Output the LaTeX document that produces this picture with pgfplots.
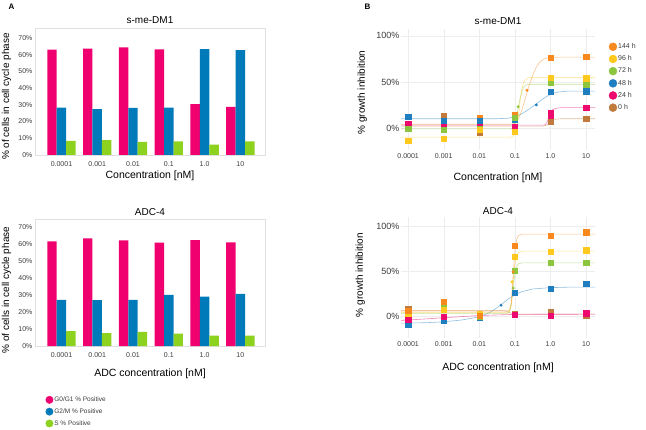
\documentclass[border=0pt]{standalone}
\usepackage{pgfplots}
\pgfplotsset{compat=1.18}
\usepackage{fontspec}
\setmainfont{Liberation Sans}
\definecolor{gpink}{RGB}{240,0,110}
\definecolor{gblue}{RGB}{0,122,184}
\definecolor{ggreen}{RGB}{140,210,30}
\definecolor{corange}{RGB}{247,137,31}
\definecolor{cyellow}{RGB}{255,200,30}
\definecolor{cgreen}{RGB}{140,198,63}
\definecolor{cblue}{RGB}{31,126,192}
\definecolor{cpink}{RGB}{236,10,110}
\definecolor{cbrown}{RGB}{192,122,62}
\definecolor{txt}{RGB}{60,60,60}
\pgfplotsset{
  barax/.style={
    scale only axis, width=230pt, height=127pt, anchor=south west,
    xmin=-0.74, xmax=5.69, ymin=0,
    ybar, bar width=0.265,
    axis line style={black!12}, tick style={draw=none},
    xtick={0,...,5}, xticklabels={0.0001,0.001,0.01,0.1,1.0,10},
    ytick={0,10,...,70}, yticklabels={0\%,10\%,20\%,30\%,40\%,50\%,60\%,70\%},
    ticklabel style={font=\fontsize{7}{8}\selectfont, text=txt},
    /pgf/number format/assume math mode=true,
    xticklabel style={yshift=1pt},
    yticklabel style={xshift=1pt},
    title style={font=\fontsize{10}{12}\selectfont, text=black},
    label style={text=black},
    ylabel={\% of cells in cell cycle phase},
    ylabel style={font=\fontsize{10}{11}\selectfont, at={(axis description cs:-0.124,0.46)}, anchor=center},
  },
  curveax/.style={
    scale only axis, width=194pt, height=121pt, anchor=south west,
    xmin=-4.2, xmax=1.25,
    axis line style={draw=none}, tick style={draw=none},
    grid=major, grid style={black!7, line width=0.4pt},
    xtick={-4,...,1}, xticklabels={0.0001,0.001,0.01,0.1,1.0,10},
    ytick={0,50,100}, yticklabels={0\%,50\%,100\%},
    xticklabel style={font=\fontsize{7}{8}\selectfont, text=txt},
    yticklabel style={font=\fontsize{9}{10}\selectfont, text=txt, xshift=2pt},
    /pgf/number format/assume math mode=true,
    title style={font=\fontsize{10}{12}\selectfont},
    ylabel={\% growth inhibition},
    ylabel style={font=\fontsize{10}{11}\selectfont, anchor=center},
  },
  cv/.style={#1, line width=0.6pt, opacity=0.5, forget plot},
  mk/.style={#1, only marks, mark=square*, mark size=2.6pt, forget plot},
  dt/.style={#1, only marks, mark=*, mark size=1.3pt, forget plot},
}
\begin{document}
\begin{tikzpicture}
\path[use as bounding box] (0pt,0pt) rectangle (646pt,429pt);
\node[anchor=north west, font=\bfseries\fontsize{8}{9}\selectfont] at (5pt,429pt) {A};
\node[anchor=north west, font=\bfseries\fontsize{8}{9}\selectfont] at (361pt,429pt) {B};

% ---------- A top ----------
\begin{axis}[barax, at={(35pt,274pt)}, ymax=76,
  title={s-me-DM1}, title style={yshift=-5pt},
  xlabel={Concentration [nM]}, xlabel style={font=\fontsize{10.5}{12}\selectfont, yshift=3pt}]
\addplot[fill=gpink, draw=none, bar shift=-0.265] coordinates {(0,63.0) (1,63.6) (2,64.4) (3,63.2) (4,30.4) (5,28.8)};
\addplot[fill=gblue, draw=none, bar shift=0] coordinates {(0,28.4) (1,27.4) (2,28.2) (3,28.4) (4,63.4) (5,62.8)};
\addplot[fill=ggreen, draw=none, bar shift=0.265] coordinates {(0,8.5) (1,8.9) (2,7.8) (3,8.2) (4,6.2) (5,8.2)};
\end{axis}

% ---------- A bottom ----------
\begin{axis}[barax, at={(35pt,83pt)}, ymax=75,
  title={ADC-4}, title style={yshift=-6pt},
  ylabel style={at={(axis description cs:-0.124,0.44)}},
  xlabel={ADC concentration [nM]}, xlabel style={font=\fontsize{10.5}{12}\selectfont, yshift=-4pt},
  legend style={at={(axis description cs:0.045,-0.39)}, anchor=north west, draw=none, fill=none,
    font=\fontsize{6.5}{7}\selectfont, text=txt, row sep=3.6pt, inner sep=0pt,
    nodes={inner sep=1pt}},
  legend cell align=left]
\addlegendimage{legend image code/.code={\fill[gpink] (3.7pt,0pt) circle (3.7pt);}}
\addlegendentry{G0/G1 \% Positive}
\addlegendimage{legend image code/.code={\fill[gblue] (3.7pt,0pt) circle (3.7pt);}}
\addlegendentry{G2/M \% Positive}
\addlegendimage{legend image code/.code={\fill[ggreen] (3.7pt,0pt) circle (3.7pt);}}
\addlegendentry{S \% Positive}
\addplot[fill=gpink, draw=none, bar shift=-0.265, forget plot] coordinates {(0,61.8) (1,63.5) (2,62.4) (3,61.0) (4,62.5) (5,61.2)};
\addplot[fill=gblue, draw=none, bar shift=0, forget plot] coordinates {(0,27.3) (1,27.1) (2,27.3) (3,30.2) (4,29.2) (5,30.8)};
\addplot[fill=ggreen, draw=none, bar shift=0.265, forget plot] coordinates {(0,8.8) (1,7.6) (2,8.4) (3,7.3) (4,6.1) (5,6.1)};
\end{axis}

% ---------- B top ----------
\begin{axis}[curveax, at={(401pt,279pt)}, ymin=-24, ymax=107.5,
  title={s-me-DM1}, title style={yshift=-5pt},
  ylabel style={at={(axis description cs:-0.2,0.475)}},
  xlabel={Concentration [nM]}, xlabel style={font=\fontsize{10.5}{12}\selectfont, yshift=-8pt},
  legend style={at={(axis description cs:1.07,0.89)}, anchor=north west, draw=none, fill=none,
    font=\fontsize{7}{8}\selectfont, text=txt, row sep=3.6pt, inner sep=0pt,
    nodes={inner sep=1pt}},
  legend cell align=left]
\addlegendimage{legend image code/.code={\fill[corange] (4pt,0pt) circle (4pt);}}
\addlegendentry{144 h}
\addlegendimage{legend image code/.code={\fill[cyellow] (4pt,0pt) circle (4pt);}}
\addlegendentry{96 h}
\addlegendimage{legend image code/.code={\fill[cgreen] (4pt,0pt) circle (4pt);}}
\addlegendentry{72 h}
\addlegendimage{legend image code/.code={\fill[cblue] (4pt,0pt) circle (4pt);}}
\addlegendentry{48 h}
\addlegendimage{legend image code/.code={\fill[cpink] (4pt,0pt) circle (4pt);}}
\addlegendentry{24 h}
\addlegendimage{legend image code/.code={\fill[cbrown] (4pt,0pt) circle (4pt);}}
\addlegendentry{0 h}
% curves
\addplot[cv=cbrown] coordinates {(-4.2,2) (-0.2,2) (-0.1,3) (-0.05,5) (0,7.5) (0.1,9.3) (0.3,10) (1.25,10)};
\addplot[cv=cpink] coordinates {(-4.2,3) (-0.2,3) (-0.15,3.5) (-0.1,6) (-0.05,11) (0,16) (0.05,19.5) (0.15,21.3) (0.3,22) (1.25,22)};
\addplot[cv=cblue] coordinates {(-4.2,10) (-1.5,10) (-1.2,10.5) (-1.0,12) (-0.8,15.5) (-0.6,20.5) (-0.4,26) (-0.2,32) (0,36.5) (0.2,39) (0.5,40) (1.25,40)};
\addplot[cv=cgreen] coordinates {(-4.2,-1) (-1.1,-1) (-1.05,1) (-1.0,5) (-0.95,13) (-0.9,23) (-0.85,33) (-0.8,40) (-0.75,44.5) (-0.7,46.5) (-0.6,47.5) (1.25,47.5)};
\addplot[cv=cyellow] coordinates {(-4.2,-10) (-1.1,-10) (-1.0,-7) (-0.95,0) (-0.9,14) (-0.85,30) (-0.8,43) (-0.75,50) (-0.7,53) (-0.6,54.5) (1.25,54.5)};
\addplot[cv=corange] coordinates {(-4.2,4) (-1.1,4) (-1,5) (-0.9,10) (-0.8,20) (-0.7,33) (-0.6,46) (-0.5,57) (-0.4,66) (-0.3,71.5) (-0.2,74.5) (-0.1,76) (0,76.7) (0.3,77) (1.25,77)};
% marks
\addplot[mk=cbrown] coordinates {(-4,3) (-3,13) (-2,-5) (-1,12) (0,7) (1,10)};
\addplot[mk=corange] coordinates {(-4,4) (-3,4) (-2,11) (-1,14) (0,76) (1,77)};
\addplot[mk=cpink] coordinates {(-4,4) (-3,3) (-2,2) (-1,1) (0,16) (0,13) (1,22)};
\addplot[mk=cblue] coordinates {(-4,12) (-3,8) (-2,8) (-1,9) (0,39) (1,40)};
\addplot[mk=cgreen] coordinates {(-4,-1) (-3,-2) (-2,-1) (-1,11) (0,49) (1,47)};
\addplot[mk=cyellow] coordinates {(-4,-14) (-3,-12) (-2,-2) (-1,-4) (0,55) (1,54)};
\addplot[dt=corange] coordinates {(-0.66,41)};
\addplot[dt=cgreen] coordinates {(-0.91,23)};
\addplot[dt=cblue] coordinates {(-0.4,25)};
\end{axis}

% ---------- B bottom ----------
\begin{axis}[curveax, at={(401pt,91pt)}, ymin=-24.5, ymax=110,
  title={ADC-4}, title style={yshift=-7pt},
  ylabel style={at={(axis description cs:-0.21,0.52)}},
  xlabel={ADC concentration [nM]}, xlabel style={font=\fontsize{10.5}{12}\selectfont, yshift=-10pt}]
% curves
\addplot[cv=cbrown] coordinates {(-4.2,6) (-1.3,6) (-1.1,3) (-0.9,2) (1.25,2)};
\addplot[cv=cpink] coordinates {(-4.2,-5) (-3,-2) (-2,0.5) (-1,1.8) (1.25,2)};
\addplot[cv=cblue] coordinates {(-4.2,-8) (-3.5,-7.5) (-3,-6.5) (-2.5,-4.5) (-2,-1) (-1.7,4) (-1.4,12) (-1.2,18.5) (-1.0,23.5) (-0.8,27) (-0.5,30) (0,31.5) (0.5,32) (1.25,32)};
\addplot[cv=cgreen] coordinates {(-4.2,3) (-1.2,3) (-1.15,5) (-1.1,12) (-1.05,31) (-1.0,47) (-0.95,55) (-0.9,58) (-0.8,59) (1.25,59)};
\addplot[cv=cyellow] coordinates {(-4.2,4) (-1.2,4) (-1.15,6) (-1.1,13) (-1.05,38) (-1.0,59) (-0.95,67) (-0.9,70.5) (-0.8,72) (1.25,72)};
\addplot[cv=corange] coordinates {(-4.2,5.5) (-1.2,5.5) (-1.15,7) (-1.1,15) (-1.05,45) (-1.0,72) (-0.95,85) (-0.9,89.5) (-0.8,91) (1.25,91)};
% marks
\addplot[mk=cbrown] coordinates {(-4,8) (-3,13) (-2,1) (-1,2) (0,5) (1,0)};
\addplot[mk=cblue] coordinates {(-4,-10) (-3,-5) (-2,-2) (-1,26) (0,30) (1,36)};
\addplot[mk=cpink] coordinates {(-4,-4) (-3,-1) (-2,0) (-1,1) (0,0) (1,3)};
\addplot[mk=cgreen] coordinates {(-4,5) (-3,10) (-2,-1) (-1,50) (0,59) (1,59)};
\addplot[mk=cyellow] coordinates {(-4,3) (-3,7) (-2,2) (-1,66) (0,71) (1,73)};
\addplot[mk=corange] coordinates {(-4,6) (-3,16) (-2,0) (-1,78) (0,89) (1,93)};
\addplot[dt=corange] coordinates {(-1.05,49)};
\addplot[dt=cyellow] coordinates {(-1.08,38)};
\addplot[dt=cgreen] coordinates {(-1.05,31)};
\addplot[dt=cblue] coordinates {(-1.39,12)};
\end{axis}
\end{tikzpicture}
\end{document}
